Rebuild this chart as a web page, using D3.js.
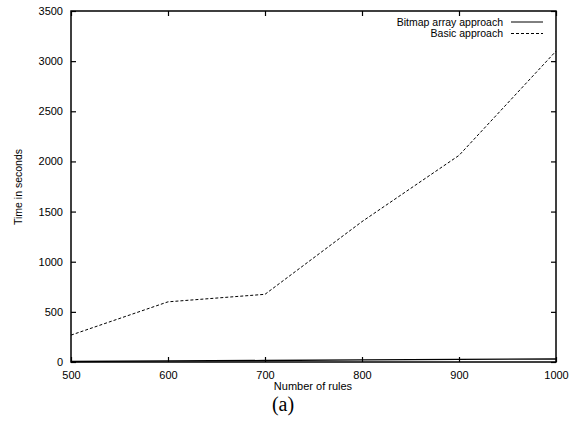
<!DOCTYPE html>
<html><head><meta charset="utf-8">
<script src="https://cdnjs.cloudflare.com/ajax/libs/d3/7.8.5/d3.min.js"></script>
<style>body{margin:0;background:#fff;}</style>
</head><body><svg id="c" width="579" height="421"></svg>
<script>
const rules = [500, 600, 700, 800, 900, 1000];
const bitmapTimes = [5, 12, 15, 22, 26, 30];
const basicTimes = [268, 600, 675, 1400, 2060, 3100];
const xTicks = [500, 600, 700, 800, 900, 1000];
const yTicks = [0, 500, 1000, 1500, 2000, 2500, 3000, 3500];
const seriesNames = ["Bitmap array approach", "Basic approach"];

const sans = "'Liberation Sans',Arial,sans-serif";
const svg = d3.select("#c");
const L = 71, R = 556, T = 11, B = 362;
const x = d3.scaleLinear().domain([500, 1000]).range([L, R]);
const y = d3.scaleLinear().domain([0, 3500]).range([B, T]);
const fmt = d3.format("d");

// ticks (mirrored, inward)
const tl = 5;
const g = svg.append("g");
g.append("g").attr("transform", `translate(0,${B})`)
  .call(d3.axisBottom(x).tickValues(xTicks).tickFormat(fmt).tickSizeInner(-tl).tickSizeOuter(0).tickPadding(9))
  .call(a => a.select(".domain").remove());
g.append("g").attr("transform", `translate(0,${T})`)
  .call(d3.axisTop(x).tickValues(xTicks).tickSizeInner(-tl).tickSizeOuter(0).tickFormat(""))
  .call(a => a.select(".domain").remove());
g.append("g").attr("transform", `translate(${L},0)`)
  .call(d3.axisLeft(y).tickValues(yTicks).tickFormat(fmt).tickSizeInner(-tl).tickSizeOuter(0).tickPadding(8))
  .call(a => a.select(".domain").remove());
g.append("g").attr("transform", `translate(${R},0)`)
  .call(d3.axisRight(y).tickValues(yTicks).tickSizeInner(-tl).tickSizeOuter(0).tickFormat(""))
  .call(a => a.select(".domain").remove());
g.selectAll(".tick line").attr("stroke", "#000").attr("stroke-width", 1.2);
g.selectAll(".tick text").attr("font-size", 11).attr("fill", "#000")
  .style("font-family", sans);

// frame
svg.append("rect").attr("x", L).attr("y", T).attr("width", R - L).attr("height", B - T)
  .attr("fill", "none").attr("stroke", "#000").attr("stroke-width", 1.5);

// lines
const line = d3.line().x((d, i) => x(rules[i])).y(d => y(d));
svg.append("path").datum(bitmapTimes).attr("d", line)
  .attr("fill", "none").attr("stroke", "#000").attr("stroke-width", 1.3);
svg.append("path").datum(basicTimes).attr("d", line)
  .attr("fill", "none").attr("stroke", "#000").attr("stroke-width", 1).attr("stroke-dasharray", "3,2");

// legend
const leg = svg.append("g");
seriesNames.forEach((n, i) => {
  const yy = 22 + i * 11.5;
  leg.append("text").attr("x", 503).attr("y", yy + 3.5).attr("text-anchor", "end")
    .attr("font-size", 10.5).attr("fill", "#000").style("font-family", sans).text(n);
  leg.append("line").attr("x1", 511).attr("x2", 543).attr("y1", yy).attr("y2", yy)
    .attr("stroke", "#000").attr("stroke-width", 1)
    .attr("stroke-dasharray", i === 1 ? "3,2" : null);
});

// axis labels
svg.append("text").attr("x", 313).attr("y", 390).attr("text-anchor", "middle")
  .attr("font-size", 11).attr("fill", "#000").style("font-family", sans).text("Number of rules");
svg.append("text").attr("transform", "translate(22,187) rotate(-90)").attr("text-anchor", "middle")
  .attr("font-size", 10.5).attr("fill", "#000").style("font-family", sans).text("Time in seconds");
svg.append("text").attr("x", 283).attr("y", 411).attr("text-anchor", "middle")
  .attr("font-size", 20).style("font-family", "'Liberation Serif','Times New Roman',serif")
  .attr("fill", "#000").text("(a)");
</script></body></html>
